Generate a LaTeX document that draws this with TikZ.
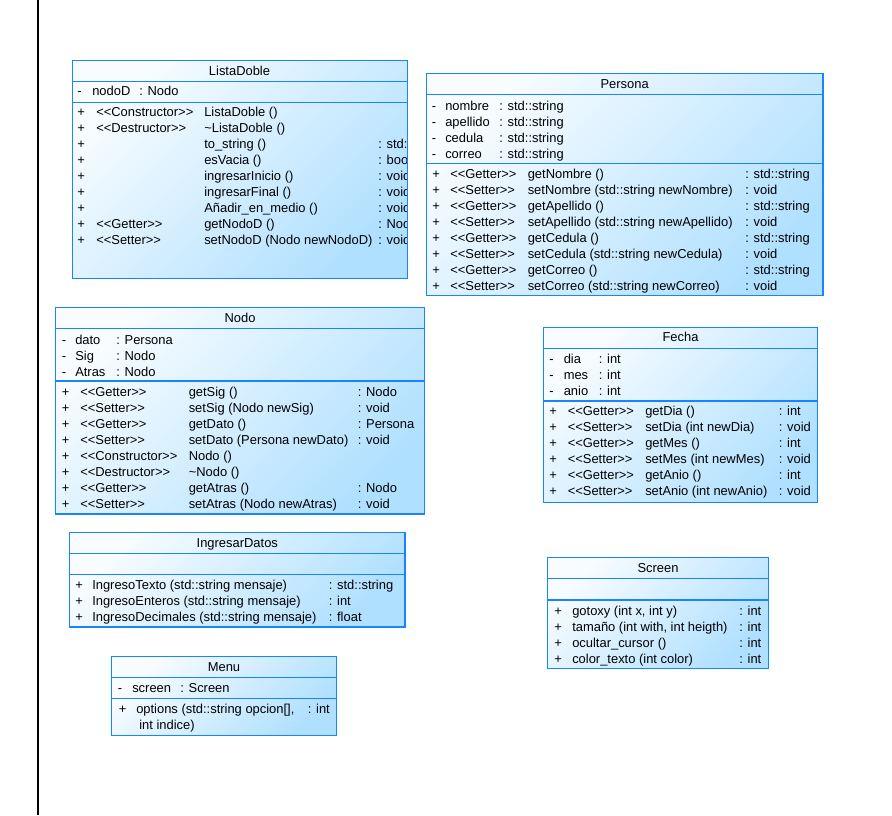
\documentclass[tikz,border=0pt]{standalone}
\usepackage{fontspec}
\usepackage{xcolor}
\usepackage{tikz}
\newfontfamily\umlfam{Liberation Sans}
\newcommand{\umlfont}{\umlfam\fontsize{9.7pt}{11pt}\selectfont}
\definecolor{umlBorder}{RGB}{24,132,255}
\definecolor{umlTop}{RGB}{248,252,255}
\definecolor{umlBot}{RGB}{176,224,255}

\begin{document}
\begin{tikzpicture}[x=0.75pt, y=-0.75pt,
  umlfill/.style={top color=umlTop, bottom color=umlBot, shading angle=45},
  umlline/.style={draw=umlBorder, line width=1pt},
  umltxt/.style={font=\umlfont, text=black, inner sep=0pt, anchor=west, text height=7.5pt, text depth=1.5pt},
  umltitle/.style={umltxt, anchor=center}]
  \useasboundingbox (0,0) rectangle (892,815);
  \draw[black, line width=1.3pt] (38,0) -- (38,815);

  \shade[umlfill] (72.5,60.5) rectangle (407.5,278.5);
  \begin{scope}
    \clip (72.5,60.5) rectangle (406.5,278.5);
    \node[umltitle] (ldT) at (239.5,71) {ListaDoble};
    \node[umltxt] (ldA1s) at (77,91) {-};
    \node[umltxt] (ldA1n) at (92,91) {nodoD};
    \node[umltxt] (ldA1t) at (139,91) {: Nodo};
    \node[umltxt] (ldM1s) at (77,112.5) {+};
    \node[umltxt] (ldM1k) at (96,112.5) {<<Constructor>>};
    \node[umltxt] (ldM1n) at (204,112.5) {ListaDoble ()};
    \node[umltxt] (ldM2s) at (77,128.5) {+};
    \node[umltxt] (ldM2k) at (96,128.5) {<<Destructor>>};
    \node[umltxt] (ldM2n) at (204,128.5) {\textasciitilde ListaDoble ()};
    \node[umltxt] (ldM3s) at (77,144.5) {+};
    \node[umltxt] (ldM3n) at (204,144.5) {to\_string ()};
    \node[umltxt] (ldM3r) at (378,144.5) {: std::};
    \node[umltxt] (ldM4s) at (77,160.5) {+};
    \node[umltxt] (ldM4n) at (204,160.5) {esVacia ()};
    \node[umltxt] (ldM4r) at (378,160.5) {: bool};
    \node[umltxt] (ldM5s) at (77,176.5) {+};
    \node[umltxt] (ldM5n) at (204,176.5) {ingresarInicio ()};
    \node[umltxt] (ldM5r) at (378,176.5) {: void};
    \node[umltxt] (ldM6s) at (77,192.5) {+};
    \node[umltxt] (ldM6n) at (204,192.5) {ingresarFinal ()};
    \node[umltxt] (ldM6r) at (378,192.5) {: void};
    \node[umltxt] (ldM7s) at (77,208.5) {+};
    \node[umltxt] (ldM7n) at (204,208.5) {Añadir\_en\_medio ()};
    \node[umltxt] (ldM7r) at (378,208.5) {: void};
    \node[umltxt] (ldM8s) at (77,224.5) {+};
    \node[umltxt] (ldM8k) at (96,224.5) {<<Getter>>};
    \node[umltxt] (ldM8n) at (204,224.5) {getNodoD ()};
    \node[umltxt] (ldM8r) at (378,224.5) {: Nodo};
    \node[umltxt] (ldM9s) at (77,240.5) {+};
    \node[umltxt] (ldM9k) at (96,240.5) {<<Setter>>};
    \node[umltxt] (ldM9n) at (204,240.5) {setNodoD (Nodo newNodoD)};
    \node[umltxt] (ldM9r) at (378,240.5) {: void};
  \end{scope}
  \draw[umlline] (72.5,60.5) rectangle (407.5,278.5);
  \draw[umlline] (72.5,81.5) -- (407.5,81.5);
  \draw[umlline] (72.5,102.5) -- (407.5,102.5);

  \shade[umlfill] (426.5,73.5) rectangle (823,295.5);
  \draw[umlline] (426.5,73.5) rectangle (823,295.5);
  \draw[umlline] (426.5,94.5) -- (823,94.5);
  \draw[umlline] (426.5,163.5) -- (823,163.5);
  \node[umltitle] (peT) at (624.7,84.3) {Persona};
  \node[umltxt] (peA1s) at (431.5,106) {-};
  \node[umltxt] (peA1n) at (445,106) {nombre};
  \node[umltxt] (peA1t) at (499,106) {: std::string};
  \node[umltxt] (peA2s) at (431.5,122) {-};
  \node[umltxt] (peA2n) at (445,122) {apellido};
  \node[umltxt] (peA2t) at (499,122) {: std::string};
  \node[umltxt] (peA3s) at (431.5,138) {-};
  \node[umltxt] (peA3n) at (445,138) {cedula};
  \node[umltxt] (peA3t) at (499,138) {: std::string};
  \node[umltxt] (peA4s) at (431.5,154) {-};
  \node[umltxt] (peA4n) at (445,154) {correo};
  \node[umltxt] (peA4t) at (499,154) {: std::string};
  \node[umltxt] (peM1s) at (432,174.5) {+};
  \node[umltxt] (peM1k) at (450,174.5) {<<Getter>>};
  \node[umltxt] (peM1n) at (527.5,174.5) {getNombre ()};
  \node[umltxt] (peM1r) at (745,174.5) {: std::string};
  \node[umltxt] (peM2s) at (432,190.5) {+};
  \node[umltxt] (peM2k) at (450,190.5) {<<Setter>>};
  \node[umltxt] (peM2n) at (527.5,190.5) {setNombre (std::string newNombre)};
  \node[umltxt] (peM2r) at (745,190.5) {: void};
  \node[umltxt] (peM3s) at (432,206.5) {+};
  \node[umltxt] (peM3k) at (450,206.5) {<<Getter>>};
  \node[umltxt] (peM3n) at (527.5,206.5) {getApellido ()};
  \node[umltxt] (peM3r) at (745,206.5) {: std::string};
  \node[umltxt] (peM4s) at (432,222.5) {+};
  \node[umltxt] (peM4k) at (450,222.5) {<<Setter>>};
  \node[umltxt] (peM4n) at (527.5,222.5) {setApellido (std::string newApellido)};
  \node[umltxt] (peM4r) at (745,222.5) {: void};
  \node[umltxt] (peM5s) at (432,238.5) {+};
  \node[umltxt] (peM5k) at (450,238.5) {<<Getter>>};
  \node[umltxt] (peM5n) at (527.5,238.5) {getCedula ()};
  \node[umltxt] (peM5r) at (745,238.5) {: std::string};
  \node[umltxt] (peM6s) at (432,254.5) {+};
  \node[umltxt] (peM6k) at (450,254.5) {<<Setter>>};
  \node[umltxt] (peM6n) at (527.5,254.5) {setCedula (std::string newCedula)};
  \node[umltxt] (peM6r) at (745,254.5) {: void};
  \node[umltxt] (peM7s) at (432,270.5) {+};
  \node[umltxt] (peM7k) at (450,270.5) {<<Getter>>};
  \node[umltxt] (peM7n) at (527.5,270.5) {getCorreo ()};
  \node[umltxt] (peM7r) at (745,270.5) {: std::string};
  \node[umltxt] (peM8s) at (432,286.5) {+};
  \node[umltxt] (peM8k) at (450,286.5) {<<Setter>>};
  \node[umltxt] (peM8n) at (527.5,286.5) {setCorreo (std::string newCorreo)};
  \node[umltxt] (peM8r) at (745,286.5) {: void};

  \shade[umlfill] (55.5,307.5) rectangle (424.5,514);
  \draw[umlline] (55.5,307.5) rectangle (424.5,514);
  \draw[umlline] (55.5,328.5) -- (424.5,328.5);
  \draw[umlline] (55.5,381) -- (424.5,381);
  \node[umltitle] (noT) at (240,318.3) {Nodo};
  \node[umltxt] (noA1s) at (61.5,340) {-};
  \node[umltxt] (noA1n) at (75,340) {dato};
  \node[umltxt] (noA1t) at (116,340) {: Persona};
  \node[umltxt] (noA2s) at (61.5,356) {-};
  \node[umltxt] (noA2n) at (75,356) {Sig};
  \node[umltxt] (noA2t) at (116,356) {: Nodo};
  \node[umltxt] (noA3s) at (61.5,372) {-};
  \node[umltxt] (noA3n) at (75,372) {Atras};
  \node[umltxt] (noA3t) at (116,372) {: Nodo};
  \node[umltxt] (noM1s) at (61.5,392.5) {+};
  \node[umltxt] (noM1k) at (80,392.5) {<<Getter>>};
  \node[umltxt] (noM1n) at (188.5,392.5) {getSig ()};
  \node[umltxt] (noM1r) at (357.5,392.5) {: Nodo};
  \node[umltxt] (noM2s) at (61.5,408.5) {+};
  \node[umltxt] (noM2k) at (80,408.5) {<<Setter>>};
  \node[umltxt] (noM2n) at (188.5,408.5) {setSig (Nodo newSig)};
  \node[umltxt] (noM2r) at (357.5,408.5) {: void};
  \node[umltxt] (noM3s) at (61.5,424.5) {+};
  \node[umltxt] (noM3k) at (80,424.5) {<<Getter>>};
  \node[umltxt] (noM3n) at (188.5,424.5) {getDato ()};
  \node[umltxt] (noM3r) at (357.5,424.5) {: Persona};
  \node[umltxt] (noM4s) at (61.5,440.5) {+};
  \node[umltxt] (noM4k) at (80,440.5) {<<Setter>>};
  \node[umltxt] (noM4n) at (188.5,440.5) {setDato (Persona newDato)};
  \node[umltxt] (noM4r) at (357.5,440.5) {: void};
  \node[umltxt] (noM5s) at (61.5,456.5) {+};
  \node[umltxt] (noM5k) at (80,456.5) {<<Constructor>>};
  \node[umltxt] (noM5n) at (188.5,456.5) {Nodo ()};
  \node[umltxt] (noM6s) at (61.5,472.5) {+};
  \node[umltxt] (noM6k) at (80,472.5) {<<Destructor>>};
  \node[umltxt] (noM6n) at (188.5,472.5) {\textasciitilde Nodo ()};
  \node[umltxt] (noM7s) at (61.5,488.5) {+};
  \node[umltxt] (noM7k) at (80,488.5) {<<Getter>>};
  \node[umltxt] (noM7n) at (188.5,488.5) {getAtras ()};
  \node[umltxt] (noM7r) at (357.5,488.5) {: Nodo};
  \node[umltxt] (noM8s) at (61.5,504.5) {+};
  \node[umltxt] (noM8k) at (80,504.5) {<<Setter>>};
  \node[umltxt] (noM8n) at (188.5,504.5) {setAtras (Nodo newAtras)};
  \node[umltxt] (noM8r) at (357.5,504.5) {: void};

  \shade[umlfill] (543.5,327.5) rectangle (817.5,502.5);
  \draw[umlline] (543.5,327.5) rectangle (817.5,502.5);
  \draw[umlline] (543.5,348.5) -- (817.5,348.5);
  \draw[umlline] (543.5,401) -- (817.5,401);
  \node[umltitle] (feT) at (680.5,337.5) {Fecha};
  \node[umltxt] (feA1s) at (549,359) {-};
  \node[umltxt] (feA1n) at (563.5,359) {dia};
  \node[umltxt] (feA1t) at (598.5,359) {: int};
  \node[umltxt] (feA2s) at (549,375) {-};
  \node[umltxt] (feA2n) at (563.5,375) {mes};
  \node[umltxt] (feA2t) at (598.5,375) {: int};
  \node[umltxt] (feA3s) at (549,391) {-};
  \node[umltxt] (feA3n) at (563.5,391) {anio};
  \node[umltxt] (feA3t) at (598.5,391) {: int};
  \node[umltxt] (feM1s) at (549,411.5) {+};
  \node[umltxt] (feM1k) at (567.5,411.5) {<<Getter>>};
  \node[umltxt] (feM1n) at (645,411.5) {getDia ()};
  \node[umltxt] (feM1r) at (778.5,411.5) {: int};
  \node[umltxt] (feM2s) at (549,427.5) {+};
  \node[umltxt] (feM2k) at (567.5,427.5) {<<Setter>>};
  \node[umltxt] (feM2n) at (645,427.5) {setDia (int newDia)};
  \node[umltxt] (feM2r) at (778.5,427.5) {: void};
  \node[umltxt] (feM3s) at (549,443.5) {+};
  \node[umltxt] (feM3k) at (567.5,443.5) {<<Getter>>};
  \node[umltxt] (feM3n) at (645,443.5) {getMes ()};
  \node[umltxt] (feM3r) at (778.5,443.5) {: int};
  \node[umltxt] (feM4s) at (549,459.5) {+};
  \node[umltxt] (feM4k) at (567.5,459.5) {<<Setter>>};
  \node[umltxt] (feM4n) at (645,459.5) {setMes (int newMes)};
  \node[umltxt] (feM4r) at (778.5,459.5) {: void};
  \node[umltxt] (feM5s) at (549,475.5) {+};
  \node[umltxt] (feM5k) at (567.5,475.5) {<<Getter>>};
  \node[umltxt] (feM5n) at (645,475.5) {getAnio ()};
  \node[umltxt] (feM5r) at (778.5,475.5) {: int};
  \node[umltxt] (feM6s) at (549,491.5) {+};
  \node[umltxt] (feM6k) at (567.5,491.5) {<<Setter>>};
  \node[umltxt] (feM6n) at (645,491.5) {setAnio (int newAnio)};
  \node[umltxt] (feM6r) at (778.5,491.5) {: void};

  \shade[umlfill] (69.5,532.5) rectangle (405,627);
  \draw[umlline] (69.5,532.5) rectangle (405,627);
  \draw[umlline] (69.5,553.5) -- (405,553.5);
  \draw[umlline] (69.5,574.5) -- (405,574.5);
  \node[umltitle] (inT) at (237.3,543.3) {IngresarDatos};
  \node[umltxt] (inM1s) at (75,585) {+};
  \node[umltxt] (inM1n) at (92,585) {IngresoTexto (std::string mensaje)};
  \node[umltxt] (inM1r) at (328.5,585) {: std::string};
  \node[umltxt] (inM2s) at (75,601) {+};
  \node[umltxt] (inM2n) at (92,601) {IngresoEnteros (std::string mensaje)};
  \node[umltxt] (inM2r) at (328.5,601) {: int};
  \node[umltxt] (inM3s) at (75,617) {+};
  \node[umltxt] (inM3n) at (92,617) {IngresoDecimales (std::string mensaje)};
  \node[umltxt] (inM3r) at (328.5,617) {: float};

  \shade[umlfill] (111.5,656.5) rectangle (336.5,735.5);
  \draw[umlline] (111.5,656.5) rectangle (336.5,735.5);
  \draw[umlline] (111.5,677.5) -- (336.5,677.5);
  \draw[umlline] (111.5,698.5) -- (336.5,698.5);
  \node[umltitle] (meT) at (224,667.7) {Menu};
  \node[umltxt] (meA1s) at (117.5,688.3) {-};
  \node[umltxt] (meA1n) at (132,688.3) {screen};
  \node[umltxt] (meA1t) at (180,688.3) {: Screen};
  \node[umltxt] (meM1s) at (118.5,709.3) {+};
  \node[umltxt] (meM1n) at (136,709.3) {options (std::string opcion[],};
  \node[umltxt] (meM1r) at (307.5,709.3) {: int};
  \node[umltxt] (meM1m) at (139,725.7) {int indice)};

  \shade[umlfill] (547.5,557.5) rectangle (768.5,668.5);
  \draw[umlline] (547.5,557.5) rectangle (768.5,668.5);
  \draw[umlline] (547.5,578.5) -- (768.5,578.5);
  \draw[umlline] (547.5,600) -- (768.5,600);
  \node[umltitle] (scT) at (658,568.3) {Screen};
  \node[umltxt] (scM1s) at (554,611) {+};
  \node[umltxt] (scM1n) at (572,611) {gotoxy (int x, int y)};
  \node[umltxt] (scM1r) at (739,611) {: int};
  \node[umltxt] (scM2s) at (554,627) {+};
  \node[umltxt] (scM2n) at (572,627) {tamaño (int with, int heigth)};
  \node[umltxt] (scM2r) at (739,627) {: int};
  \node[umltxt] (scM3s) at (554,643) {+};
  \node[umltxt] (scM3n) at (572,643) {ocultar\_cursor ()};
  \node[umltxt] (scM3r) at (739,643) {: int};
  \node[umltxt] (scM4s) at (554,659) {+};
  \node[umltxt] (scM4n) at (572,659) {color\_texto (int color)};
  \node[umltxt] (scM4r) at (739,659) {: int};
\end{tikzpicture}
\end{document}
